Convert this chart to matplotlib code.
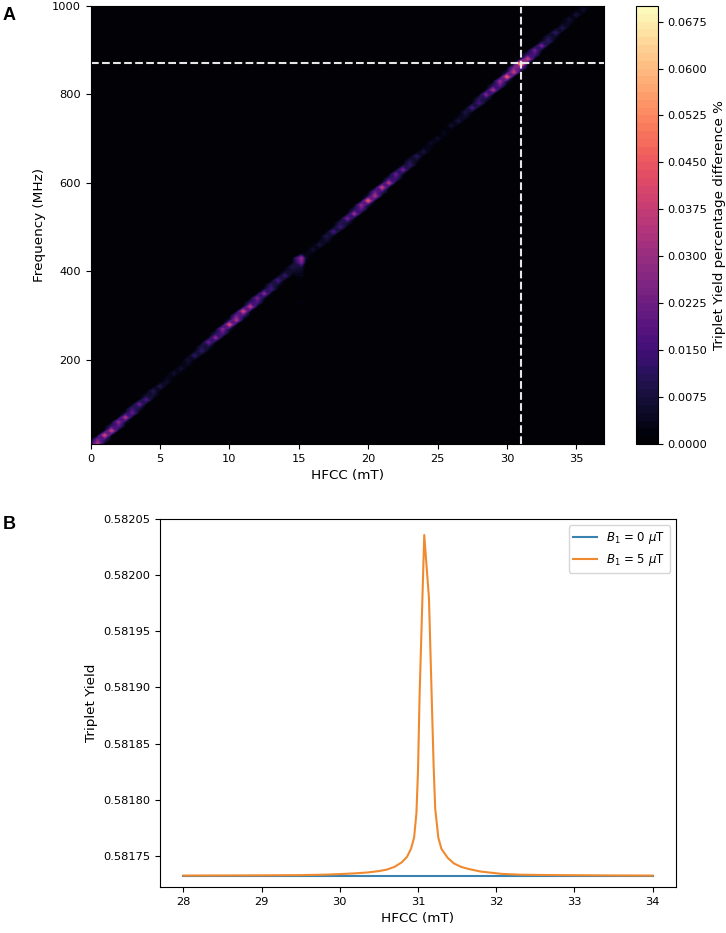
import numpy as np
import matplotlib.pyplot as plt

# panel A: resonance ridge, brightness read along the diagonal
ridge_hfcc = [0.0, 0.5, 1.0, 1.5, 2.0, 2.5, 3.0, 3.5, 4.0, 4.5,
              5.0, 5.5, 6.0, 6.5, 7.0, 7.5, 8.0, 8.5, 9.0, 9.5,
              10.0, 10.5, 11.0, 11.5, 12.0, 12.5, 13.0, 13.5, 14.0, 14.5,
              15.2, 15.5, 16.0, 16.5, 17.0, 17.5, 18.0, 18.5, 19.0, 19.5,
              20.0, 20.5, 21.0, 21.5, 22.0, 22.5, 23.0, 23.5, 24.0, 24.5,
              25.0, 25.5, 26.0, 26.5, 27.0, 27.5, 28.0, 28.5, 29.0, 29.5,
              30.0, 30.5, 31.0, 31.5, 32.0, 32.5, 33.0, 33.5, 34.0, 34.5,
              35.0, 35.5, 36.0, 36.5, 37.0]
ridge_level = [0.060, 0.046, 0.042, 0.040, 0.037, 0.033, 0.028, 0.023, 0.018, 0.013,
               0.009, 0.007, 0.006, 0.006, 0.008, 0.012, 0.017, 0.023, 0.029, 0.035,
               0.041, 0.044, 0.043, 0.038, 0.032, 0.026, 0.021, 0.017, 0.014, 0.011,
               0.042, 0.006, 0.006, 0.008, 0.012, 0.016, 0.020, 0.025, 0.031, 0.037,
               0.044, 0.043, 0.040, 0.035, 0.029, 0.023, 0.017, 0.012, 0.008, 0.006,
               0.005, 0.005, 0.006, 0.008, 0.011, 0.016, 0.021, 0.027, 0.033, 0.039,
               0.045, 0.050, 0.069, 0.040, 0.031, 0.023, 0.017, 0.013, 0.010, 0.008,
               0.007, 0.007, 0.007, 0.007, 0.007]
mhz_per_mt = 28.0
ridge_width = 5.0

# faint vertical streak at HFCC 15.2
streak_freq = [120, 200, 250, 270, 290, 310, 330, 350, 370, 390, 400, 410,
               440, 470, 500, 530, 560, 580]
streak_level = [0.0014, 0.0014, 0.0016, 0.0018, 0.0018, 0.0020, 0.0020, 0.0022, 0.0024,
                0.0030, 0.0040, 0.0060, 0.0016, 0.0015, 0.0014, 0.0014, 0.0013, 0.0013]
streak_col = 15.2

h_line = 870
v_line = 31.0

# panel B
hfcc_b = [28.0, 28.5, 29.0, 29.5, 29.8, 30.0, 30.2, 30.36, 30.5, 30.6,
          30.7, 30.79, 30.86, 30.91, 30.95, 30.98, 31.0, 31.02, 31.05, 31.08,
          31.14, 31.18, 31.2, 31.22, 31.26, 31.3, 31.38, 31.46, 31.55, 31.64,
          31.8, 32.07, 32.3, 32.6, 33.0, 33.5, 34.0]
yield_b5 = [0.5817322, 0.5817323, 0.5817324, 0.5817326, 0.5817330, 0.5817335, 0.5817342,
            0.5817350, 0.5817362, 0.5817375, 0.5817400, 0.5817439, 0.5817490, 0.5817560,
            0.5817660, 0.5817880, 0.5818250, 0.5818920, 0.5819640, 0.5820360, 0.5819800,
            0.5818800, 0.5818300, 0.5817920, 0.5817660, 0.5817560, 0.5817480, 0.5817430,
            0.5817400, 0.5817382, 0.5817358, 0.5817337, 0.5817330, 0.5817327, 0.5817325,
            0.5817323, 0.5817322]
hfcc_b0 = [28.0, 29.0, 30.0, 31.0, 32.0, 33.0, 34.0]
yield_b0 = [0.581732, 0.581732, 0.581732, 0.581732, 0.581732, 0.581732, 0.581732]

plt.rcParams['font.family'] = 'DejaVu Sans'
plt.rcParams['font.size'] = 8.2

fig = plt.figure(figsize=(7.26, 9.33), dpi=100)
ax1 = fig.add_axes([0.125, 0.5241, 0.707, 0.4695])
cax = fig.add_axes([0.876, 0.5241, 0.0303, 0.4695])
ax2 = fig.add_axes([0.2204, 0.0493, 0.7107, 0.3941])

freq = np.arange(10, 1001, 10)
xs = np.array(ridge_hfcc)
Z = np.zeros((len(freq), len(xs)))
for j, x in enumerate(xs):
    d = freq - mhz_per_mt * x
    Z[:, j] = ridge_level[j] * np.exp(-0.5 * (d / ridge_width) ** 2)
jc = ridge_hfcc.index(streak_col)
for f, v in zip(streak_freq, streak_level):
    i = int(np.argmin(np.abs(freq - f)))
    Z[i, jc] = max(Z[i, jc], v)

levels = np.arange(0, 0.0700 + 1e-9, 0.00125)
cs = ax1.contourf(xs, freq, Z, levels=levels, cmap='magma')
ax1.axhline(h_line, color='#e6e6e6', ls='--', lw=1.5)
ax1.axvline(v_line, color='#e6e6e6', ls='--', lw=1.5)
ax1.set_xlim(0, 37)
ax1.set_ylim(10, 1000)
ax1.set_xticks([0, 5, 10, 15, 20, 25, 30, 35])
ax1.set_yticks([200, 400, 600, 800, 1000])
ax1.set_xlabel('HFCC (mT)', fontsize=9.7)
ax1.set_ylabel('Frequency (MHz)', fontsize=9.7)

cb = fig.colorbar(cs, cax=cax, ticks=np.arange(0, 0.0676, 0.0075), format='%.4f')
cb.set_label('Triplet Yield percentage difference %', fontsize=9.7)

ax2.plot(hfcc_b0, yield_b0, color='#3a82b0', lw=1.5, label=r'$B_1$ = 0 $\mu$T')
ax2.plot(hfcc_b, yield_b5, color='#f08a2e', lw=1.5, label=r'$B_1$ = 5 $\mu$T')
ax2.set_xlim(27.7, 34.3)
ax2.set_ylim(0.581722, 0.58205)
ax2.set_xlabel('HFCC (mT)', fontsize=9.7)
ax2.set_ylabel('Triplet Yield', fontsize=9.7)
ax2.yaxis.set_major_formatter(plt.FormatStrFormatter('%.5f'))
ax2.legend(loc='upper right', fontsize=8.5)

fig.text(0.004, 0.993, 'A', fontsize=13, fontweight='bold', family='Liberation Sans', va='top')
fig.text(0.004, 0.447, 'B', fontsize=13, fontweight='bold', family='Liberation Sans', va='top')

fig.savefig('out.png', dpi=100)
